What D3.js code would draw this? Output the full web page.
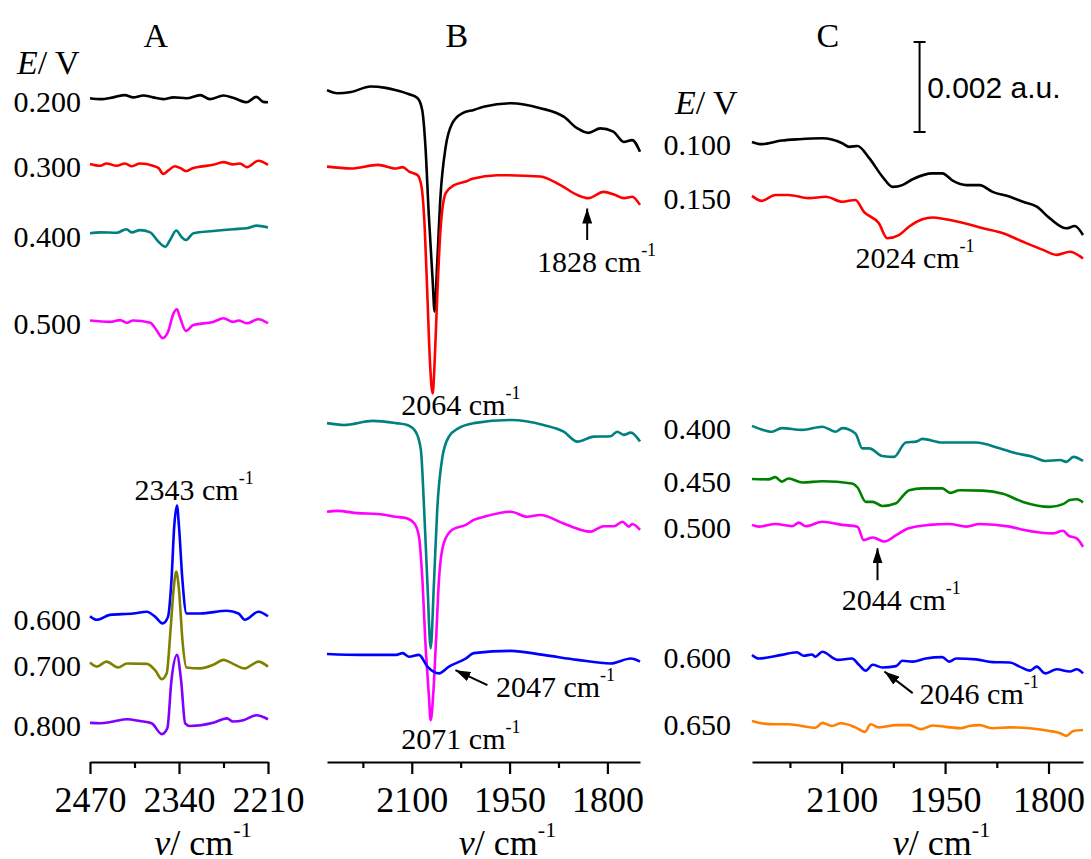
<!DOCTYPE html>
<html>
<head>
<meta charset="utf-8">
<script src="https://cdn.jsdelivr.net/npm/d3@7"></script>
<style>
body{margin:0;background:#fff;}
svg{display:block;font-family:"Liberation Serif","Times New Roman",serif;}
</style>
</head>
<body>
<svg id="chart" width="1091" height="859"></svg>
<script>
// spectra: [wavenumber / cm-1, absorbance x 1e-3 a.u. (stacked)]
const a200 = [[2470,14.75],[2455,14.73],[2436,14.77],[2419,14.82],[2407,14.77],[2392,14.81],[2378,14.77],[2363,14.73],[2348,14.77],[2329,14.75],[2309,14.82],[2295,14.73],[2275,14.81],[2261,14.76],[2241,14.66],[2227,14.78],[2217,14.67],[2210,14.66]];
const a300 = [[2470,13.29],[2455,13.25],[2446,13.30],[2431,13.25],[2419,13.30],[2409,13.24],[2397,13.30],[2378,13.25],[2370,13.20],[2363,13.07],[2356,13.14],[2346,13.24],[2337,13.19],[2330,13.13],[2319,13.20],[2309,13.23],[2290,13.27],[2275,13.33],[2261,13.28],[2251,13.30],[2241,13.22],[2224,13.36],[2210,13.27]];
const a400 = [[2470,11.75],[2455,11.77],[2431,11.76],[2417,11.84],[2409,11.77],[2397,11.82],[2382,11.77],[2370,11.56],[2360,11.45],[2353,11.60],[2344,11.81],[2336,11.66],[2330,11.60],[2319,11.75],[2290,11.80],[2261,11.84],[2241,11.86],[2227,11.92],[2210,11.88]];
const a500 = [[2470,9.81],[2441,9.78],[2426,9.82],[2416,9.76],[2407,9.81],[2382,9.76],[2373,9.60],[2364,9.42],[2356,9.56],[2348,9.97],[2343,10.06],[2339,9.90],[2330,9.58],[2319,9.71],[2290,9.78],[2275,9.86],[2261,9.78],[2253,9.81],[2241,9.75],[2224,9.84],[2210,9.75]];
const a600 = [[2470,3.24],[2460,3.16],[2441,3.27],[2407,3.30],[2387,3.34],[2375,3.23],[2364,3.08],[2356,3.23],[2351,4.04],[2347,5.23],[2343,5.70],[2340,5.23],[2335,4.04],[2329,3.30],[2309,3.30],[2270,3.36],[2253,3.30],[2244,3.16],[2224,3.34],[2210,3.24]];
const a700 = [[2470,2.21],[2460,2.12],[2446,2.23],[2429,2.10],[2416,2.19],[2387,2.18],[2375,2.04],[2365,1.84],[2358,1.97],[2352,3.01],[2348,3.82],[2344,4.23],[2340,3.82],[2335,2.71],[2329,2.10],[2309,2.08],[2290,2.16],[2275,2.27],[2261,2.18],[2244,2.08],[2224,2.23],[2210,2.12]];
const a800 = [[2470,0.87],[2455,0.86],[2436,0.90],[2416,0.95],[2397,0.91],[2380,0.86],[2365,0.62],[2357,0.75],[2351,1.82],[2343,2.38],[2337,1.82],[2331,0.86],[2324,0.80],[2290,0.87],[2270,0.97],[2261,0.90],[2246,0.93],[2227,1.04],[2210,0.95]];

const b200 = [[2230,14.93],[2214,14.86],[2193,14.89],[2163,15.01],[2140,14.98],[2124,14.93],[2104,14.84],[2091,14.75],[2084,14.49],[2079,13.67],[2074,12.19],[2068,10.71],[2065,10.01],[2061,11.08],[2056,12.56],[2048,13.67],[2038,14.19],[2022,14.42],[2005,14.49],[1990,14.56],[1948,14.64],[1903,14.53],[1867,14.34],[1846,14.08],[1829,13.98],[1811,14.08],[1791,14.01],[1775,13.78],[1762,13.82],[1750,13.56]];
const b300 = [[2230,13.23],[2193,13.19],[2152,13.27],[2124,13.19],[2114,13.22],[2104,13.12],[2091,13.04],[2085,12.78],[2080,11.82],[2076,10.34],[2072,8.86],[2068,8.19],[2065,8.86],[2061,10.34],[2056,11.82],[2048,12.64],[2035,12.82],[2017,12.90],[2007,12.96],[1969,13.04],[1903,13.01],[1872,12.82],[1846,12.60],[1829,12.53],[1806,12.67],[1788,12.60],[1775,12.53],[1762,12.56],[1750,12.38]];
const b400 = [[2230,7.53],[2204,7.49],[2160,7.58],[2124,7.53],[2107,7.49],[2094,7.34],[2086,6.93],[2081,5.60],[2076,3.97],[2071,2.53],[2066,3.97],[2061,5.60],[2053,6.78],[2043,7.23],[2028,7.42],[2005,7.53],[1948,7.60],[1898,7.49],[1867,7.34],[1846,7.12],[1821,7.23],[1795,7.24],[1785,7.34],[1775,7.27],[1764,7.32],[1750,7.12]];
const b500 = [[2230,5.56],[2214,5.58],[2183,5.53],[2152,5.51],[2124,5.45],[2109,5.42],[2096,5.30],[2089,5.01],[2084,4.12],[2079,2.64],[2074,1.53],[2071,0.93],[2067,1.53],[2063,2.64],[2058,4.12],[2051,4.86],[2038,5.16],[2017,5.27],[2005,5.38],[1989,5.45],[1948,5.56],[1923,5.45],[1903,5.49],[1867,5.30],[1841,5.16],[1826,5.12],[1806,5.24],[1790,5.24],[1777,5.34],[1767,5.23],[1762,5.29],[1750,5.16]];
const b600 = [[2230,2.40],[2178,2.38],[2124,2.38],[2114,2.42],[2104,2.34],[2089,2.38],[2076,2.12],[2058,1.97],[2043,2.12],[2017,2.30],[2005,2.42],[1948,2.47],[1898,2.38],[1846,2.27],[1795,2.19],[1764,2.30],[1750,2.23]];

const c100 = [[2230,13.78],[2216,13.73],[2187,13.81],[2162,13.84],[2128,13.86],[2099,13.75],[2089,13.67],[2077,13.69],[2060,13.42],[2041,13.01],[2026,12.78],[2012,12.82],[1997,12.95],[1968,13.08],[1954,13.08],[1939,12.92],[1919,12.82],[1900,12.82],[1881,12.67],[1856,12.56],[1837,12.45],[1817,12.34],[1798,12.08],[1774,11.86],[1762,11.91],[1750,11.71]];
const c150 = [[2230,12.58],[2216,12.47],[2196,12.60],[2177,12.60],[2148,12.53],[2123,12.56],[2099,12.45],[2080,12.49],[2068,12.23],[2046,11.97],[2034,11.64],[2017,11.71],[2002,11.90],[1983,12.06],[1968,12.10],[1949,12.06],[1919,11.96],[1895,11.86],[1866,11.75],[1837,11.56],[1808,11.38],[1788,11.27],[1769,11.34],[1750,11.19]];
const c400 = [[2230,7.47],[2216,7.39],[2201,7.34],[2187,7.42],[2157,7.38],[2128,7.45],[2109,7.34],[2099,7.42],[2080,7.30],[2070,6.97],[2060,6.97],[2041,6.80],[2024,6.78],[2007,7.10],[1992,7.12],[1983,7.18],[1954,7.10],[1905,7.10],[1871,6.97],[1847,6.86],[1822,6.78],[1805,6.69],[1783,6.71],[1774,6.67],[1764,6.78],[1750,6.69]];
const c450 = [[2230,6.29],[2206,6.28],[2196,6.33],[2187,6.23],[2177,6.30],[2157,6.21],[2128,6.24],[2085,6.19],[2077,6.10],[2065,5.78],[2055,5.78],[2041,5.69],[2021,5.75],[2012,5.90],[2002,6.04],[1983,6.08],[1954,6.08],[1942,5.98],[1929,6.04],[1895,6.03],[1866,5.96],[1837,5.78],[1798,5.67],[1779,5.73],[1769,5.82],[1759,5.84],[1750,5.77]];
const c500 = [[2230,5.27],[2220,5.23],[2196,5.29],[2172,5.24],[2162,5.32],[2152,5.24],[2128,5.34],[2099,5.27],[2077,5.23],[2068,4.93],[2055,4.99],[2038,4.90],[2021,5.04],[2004,5.19],[1973,5.27],[1944,5.29],[1919,5.23],[1900,5.29],[1856,5.23],[1837,5.16],[1813,5.10],[1793,5.08],[1779,5.14],[1771,5.03],[1759,4.97],[1750,4.78]];
const c600 = [[2230,2.38],[2220,2.30],[2187,2.38],[2165,2.44],[2155,2.36],[2143,2.39],[2138,2.34],[2128,2.45],[2106,2.27],[2085,2.30],[2075,2.16],[2065,2.03],[2055,2.16],[2041,2.10],[2021,2.13],[2012,2.25],[1997,2.23],[1978,2.30],[1954,2.33],[1944,2.23],[1934,2.30],[1905,2.28],[1881,2.22],[1856,2.21],[1842,2.12],[1827,2.03],[1817,2.12],[1805,1.97],[1788,2.06],[1769,2.01],[1759,2.06],[1750,1.97]];
const c650 = [[2230,0.91],[2216,0.86],[2196,0.84],[2177,0.84],[2138,0.76],[2128,0.87],[2114,0.80],[2101,0.86],[2080,0.77],[2066,0.67],[2058,0.84],[2046,0.77],[2021,0.82],[2002,0.82],[1985,0.73],[1968,0.81],[1949,0.78],[1927,0.75],[1915,0.80],[1900,0.82],[1881,0.75],[1856,0.77],[1827,0.75],[1798,0.69],[1783,0.64],[1774,0.58],[1764,0.69],[1750,0.71]];

const potentialsA = ['0.200','0.300','0.400','0.500','0.600','0.700','0.800'];
const potentialsC = ['0.100','0.150','0.400','0.450','0.500','0.600','0.650'];

const ticksA = [2470, 2340, 2210];
const minorA = [2405, 2275];
const ticksBC = [2100, 1950, 1800];
const minorBC = [2175, 2025, 1875];

// peak labels: text, wavenumber, absorbance (baseline of text)
const notesA = [['2343', 2405, 5.82]];
const notesB = [['2064', 2116, 7.71], ['2071', 2116, 0.30], ['1828', 1908, 10.90], ['2047', 1971, 1.45]];
const notesC = [['2024', 2080, 10.97], ['2044', 2100, 3.38], ['2046', 1987, 1.30]];
// arrows: [from wn, from abs, to wn, to abs]
const arrowsB = [[1831, 11.60, 1831, 12.30], [1984, 1.71, 2033, 2.04]];
const arrowsC = [[2048, 4.04, 2048, 4.75], [1997, 1.53, 2038, 2.01]];

const colorsA = ['#000000','#ff0000','#008080','#ff00ff','#0000ff','#808000','#8000ff'];
const colorsB = ['#000000','#ff0000','#008080','#ff00ff','#0000ff'];
const colorsC = ['#000000','#ff0000','#008080','#008000','#ff00ff','#0000ff','#ff8000'];

const svg = d3.select('#chart');
const y = d3.scaleLinear().domain([0, 16]).range([762, 42]);
const axisY = 762;

svg.append('defs').append('marker')
    .attr('id', 'head')
    .attr('markerUnits', 'userSpaceOnUse')
    .attr('viewBox', '0 0 15 10')
    .attr('refX', 15).attr('refY', 5)
    .attr('markerWidth', 15).attr('markerHeight', 10)
    .attr('orient', 'auto')
    .append('path').attr('d', 'M0,0L15,5L0,10Z').attr('fill', '#000');

const panels = [
    {name: 'A', range: [90, 268], domain: [2470, 2210], major: ticksA, minor: minorA,
        spectra: [a200, a300, a400, a500, a600, a700, a800], colors: colorsA, potentials: potentialsA,
        labelGap: 9, evX: 17, evY: 15.56, letter: 2374, notes: notesA, arrows: []},
    {name: 'B', range: [327, 640], domain: [2230, 1750], major: ticksBC, minor: minorBC,
        spectra: [b200, b300, b400, b500, b600], colors: colorsB, potentials: null,
        letter: 2031, notes: notesB, arrows: arrowsB},
    {name: 'C', range: [752, 1083], domain: [2230, 1750], major: ticksBC, minor: minorBC,
        spectra: [c100, c150, c400, c450, c500, c600, c650], colors: colorsC, potentials: potentialsC,
        labelGap: 21, evX: 675, evY: 14.67, letter: 2120, notes: notesC, arrows: arrowsC}
];

panels.forEach(drawPanel);

function drawPanel(p) {
    const x = d3.scaleLinear().domain(p.domain).range(p.range);
    const g = svg.append('g').attr('id', 'panel' + p.name);

    const line = d3.line()
        .x(d => x(d[0]))
        .y(d => y(d[1]))
        .curve(d3.curveMonotoneX);

    g.selectAll('path.spec')
        .data(p.spectra).enter()
        .append('path')
        .attr('class', 'spec')
        .attr('d', line)
        .attr('fill', 'none')
        .attr('stroke', (d, i) => p.colors[i])
        .attr('stroke-width', 2.6)
        .attr('stroke-linejoin', 'round');

    // potential labels
    if (p.potentials) {
        g.selectAll('text.pot')
            .data(p.spectra).enter()
            .append('text')
            .attr('class', 'pot')
            .attr('x', p.range[0] - p.labelGap)
            .attr('y', d => y(d[0][1]) + 3)
            .attr('dy', '0.35em')
            .attr('text-anchor', 'end')
            .style('font-size', '30px')
            .text((d, i) => p.potentials[i]);

        const ev = g.append('text')
            .attr('x', p.evX)
            .attr('y', y(p.evY))
            .attr('dy', '0.35em')
            .style('font-size', '34px');
        ev.append('tspan').style('font-style', 'italic').text('E');
        ev.append('tspan').text('/ V');
    }

    // panel letter
    g.append('text')
        .attr('x', x(p.letter))
        .attr('y', 47)
        .attr('text-anchor', 'middle')
        .style('font-size', '34px')
        .text(p.name);

    // axis
    const ax = g.append('g')
        .attr('transform', 'translate(0,' + axisY + ')')
        .call(d3.axisBottom(x).tickValues(p.major).tickSize(12).tickSizeOuter(0)
            .tickPadding(12).tickFormat(d3.format('d')));
    ax.attr('font-family', null).attr('font-size', null);
    ax.selectAll('path,line').attr('stroke-width', 2.2);
    ax.selectAll('text').style('font-size', '36px');

    const mx = g.append('g')
        .attr('transform', 'translate(0,' + axisY + ')')
        .call(d3.axisBottom(x).tickValues(p.minor).tickSize(6).tickSizeOuter(0).tickFormat(''));
    mx.select('.domain').remove();
    mx.selectAll('line').attr('stroke-width', 2.2);

    const mid = (p.range[0] + p.range[1]) / 2;
    const t = g.append('text')
        .attr('x', mid + 24)
        .attr('y', 855)
        .attr('text-anchor', 'middle')
        .style('font-size', '36px');
    t.append('tspan').style('font-style', 'italic').text('ν');
    t.append('tspan').text('/ cm');
    t.append('tspan').attr('dy', -18).style('font-size', '22px').text('-1');

    // peak labels
    p.notes.forEach(n => {
        const tx = g.append('text')
            .attr('x', x(n[1]))
            .attr('y', y(n[2]))
            .style('font-size', '30px');
        tx.append('tspan').text(n[0] + ' cm');
        tx.append('tspan').attr('dy', -16).style('font-size', '18px').text('-1');
    });

    g.selectAll('line.arrow')
        .data(p.arrows).enter()
        .append('line')
        .attr('class', 'arrow')
        .attr('x1', d => x(d[0])).attr('y1', d => y(d[1]))
        .attr('x2', d => x(d[2])).attr('y2', d => y(d[3]))
        .attr('stroke', '#000')
        .attr('stroke-width', 2)
        .attr('marker-end', 'url(#head)');

    // scale bar in panel C
    if (p.name === 'C') {
        const bx = x(1987);
        const bar = g.append('g').attr('stroke', '#000').attr('stroke-width', 2);
        bar.append('line').attr('x1', bx).attr('x2', bx).attr('y1', y(14)).attr('y2', y(16));
        bar.append('line').attr('x1', bx - 6).attr('x2', bx + 6).attr('y1', y(14)).attr('y2', y(14));
        bar.append('line').attr('x1', bx - 6).attr('x2', bx + 6).attr('y1', y(16)).attr('y2', y(16));
        g.append('text')
            .attr('x', x(1976))
            .attr('y', y(15))
            .attr('dy', '0.35em')
            .style('font-family', '"Liberation Sans", Arial, sans-serif')
            .style('font-size', '30px')
            .text('0.002 a.u.');
    }
}
</script>
</body>
</html>
